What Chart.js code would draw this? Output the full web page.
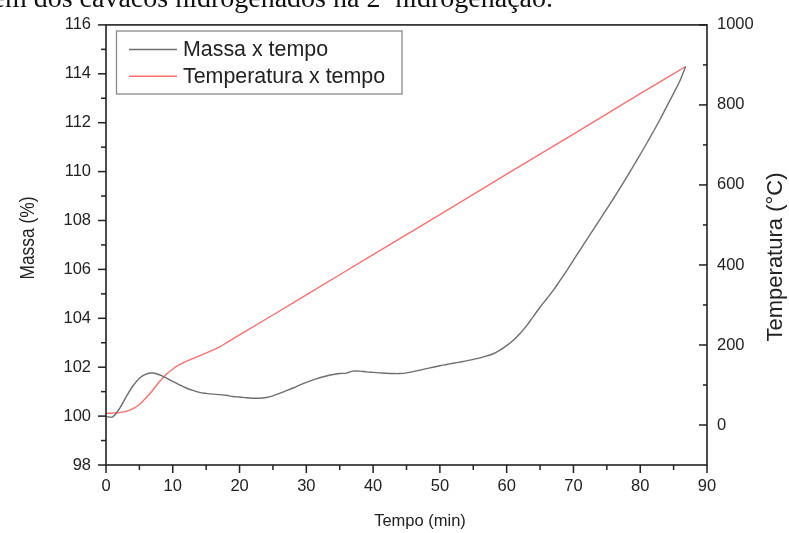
<!DOCTYPE html>
<html>
<head>
<meta charset="utf-8">
<script src="https://cdn.jsdelivr.net/npm/chart.js@4.4.1/dist/chart.umd.min.js"></script>
<style>
    html, body { margin: 0; padding: 0; background: #fff; overflow: hidden; }
    #wrap { position: relative; width: 789px; height: 533px; }
    #wrap canvas { position: absolute; left: 0; top: 0; }
    #caption {
        position: absolute; right: 236px; top: -16px;
        font: 28px 'Liberation Serif', serif; line-height: 28px;
        white-space: nowrap; color: #111;
    }
</style>
</head>
<body>
<div id="wrap">
    <canvas id="tgChart" width="789" height="533"></canvas>
    <div id="caption">em dos cavacos hidrogenados na 2ª hidrogenação.</div>
</div>
<script>
// Massa (%) x tempo (min)
const massTime = [0, 1, 2, 3, 4, 5, 6, 7, 8, 9, 10, 11, 12, 13, 14, 15, 16, 17, 18, 19,
    20, 21, 22, 23, 24, 25, 26, 27, 28, 29, 30, 31, 32, 33, 34, 35, 36, 37, 38, 39,
    40, 41, 42, 43, 44, 45, 46, 47, 48, 49, 50, 51, 52, 53, 54, 55, 56, 57, 58, 59,
    60, 61, 62, 63, 64, 65, 66, 67, 68, 69, 70, 71, 72, 73, 74, 75, 76, 77, 78, 79,
    80, 81, 82, 83, 84, 85, 86, 86.8];
const massPct = [99.98, 99.97, 100.3, 100.78, 101.22, 101.55, 101.72, 101.76, 101.69, 101.56,
    101.42, 101.28, 101.15, 101.05, 100.97, 100.93, 100.9, 100.88, 100.85, 100.8,
    100.78, 100.75, 100.73, 100.73, 100.76, 100.83, 100.93, 101.04, 101.15, 101.27,
    101.38, 101.48, 101.57, 101.64, 101.7, 101.74, 101.76, 101.84, 101.84, 101.81,
    101.79, 101.77, 101.75, 101.74, 101.74, 101.77, 101.82, 101.88, 101.94, 102.0,
    102.06, 102.11, 102.16, 102.21, 102.26, 102.32, 102.38, 102.46, 102.55, 102.7,
    102.88, 103.1, 103.38, 103.7, 104.08, 104.45, 104.8, 105.15, 105.55, 105.95,
    106.38, 106.8, 107.22, 107.64, 108.06, 108.48, 108.9, 109.33, 109.78, 110.24,
    110.7, 111.17, 111.65, 112.15, 112.68, 113.2, 113.75, 114.3];

// Temperatura (°C) x tempo (min)
const tempTime = [0, 1, 2, 3, 4, 5, 6, 7, 8, 9, 10, 11, 12, 13, 14, 15, 16, 17, 18, 19, 20,
    30, 40, 50, 60, 70, 80, 86.8];
const tempC = [29, 30, 31, 34, 40, 51, 68, 87, 108, 126, 140, 151, 159, 166, 173, 180, 187, 195, 205, 215, 225,
    325, 426, 526, 627, 727, 828, 896];

const seriesLabels = ['Massa x tempo', 'Temperatura x tempo'];
const timeTicks = [0, 10, 20, 30, 40, 50, 60, 70, 80, 90];
const massTicks = [98, 100, 102, 104, 106, 108, 110, 112, 114, 116];
const tempTicks = [0, 200, 400, 600, 800, 1000];
const xTitle = 'Tempo (min)';
const yTitle = 'Massa (%)';
const y2Title = 'Temperatura (°C)';

(function() {
    'use strict';

    const INK = '#222';
    const FONT = "'Liberation Sans', Arial, sans-serif";

    function toPoints(xs, ys) {
        return xs.map((x, i) => ({ x: x, y: ys[i] }));
    }

    function useTicks(values) {
        return function(scale) {
            scale.ticks = values.map(v => ({ value: v }));
        };
    }

    // Rahmen, Teilstriche, Achsentitel und Legende
    const framePlugin = {
        id: 'frame',
        afterDraw(chart) {
            const ctx = chart.ctx;
            const a = chart.chartArea;
            const sx = chart.scales.x, sy = chart.scales.y, sy2 = chart.scales.y2;
            ctx.save();
            ctx.strokeStyle = INK;
            ctx.lineWidth = 1.6;
            ctx.strokeRect(a.left, a.top, a.right - a.left, a.bottom - a.top);

            ctx.lineWidth = 1.5;
            function tick(x1, y1, x2, y2) {
                ctx.beginPath();
                ctx.moveTo(x1, y1);
                ctx.lineTo(x2, y2);
                ctx.stroke();
            }
            function eachTick(scale, fn) {
                scale.ticks.forEach((t, i) => {
                    fn(scale.getPixelForValue(t.value), true);
                    const next = scale.ticks[i + 1];
                    if (next) fn(scale.getPixelForValue((t.value + next.value) / 2), false);
                });
            }
            eachTick(sx, (p, major) => tick(p, a.bottom, p, a.bottom + (major ? 8 : 5)));
            eachTick(sy, (p, major) => tick(a.left, p, a.left - (major ? 8 : 5), p));
            eachTick(sy2, (p, major) => tick(a.right, p, a.right - (major ? 8 : 4), p));

            // Achsentitel
            ctx.fillStyle = INK;
            ctx.textAlign = 'center';
            ctx.textBaseline = 'middle';
            ctx.font = '16.5px ' + FONT;
            ctx.fillText(xTitle, 420, 521);

            function vTitle(text, x, y, size, squeeze) {
                ctx.save();
                ctx.font = size + 'px ' + FONT;
                ctx.translate(x, y);
                ctx.rotate(-Math.PI / 2);
                ctx.scale(squeeze, 1);
                ctx.fillText(text, 0, 0);
                ctx.restore();
            }
            vTitle(yTitle, 28, 238, 20, 0.87);
            vTitle(y2Title, 776, 257, 22, 1);
            ctx.restore();

            // Legende
            ctx.save();
            ctx.strokeStyle = '#8a8a8a';
            ctx.lineWidth = 1.3;
            ctx.strokeRect(116.5, 31, 285.5, 63);
            ctx.font = '21.4px ' + FONT;
            ctx.textAlign = 'left';
            ctx.textBaseline = 'middle';
            chart.data.datasets.forEach((ds, i) => {
                const yy = 49.5 + i * 26.7;
                ctx.strokeStyle = ds.borderColor;
                ctx.lineWidth = 1.4;
                tick(129, yy, 177, yy);
                ctx.fillStyle = INK;
                ctx.fillText(ds.label, 183, yy + 1);
            });
            ctx.restore();
        }
    };

    const tickFont = { family: FONT, size: 16.5 };
    const plainLabel = value => String(value);

    const config = {
        type: 'line',
        data: {
            datasets: [
                {
                    label: seriesLabels[0],
                    data: toPoints(massTime, massPct),
                    yAxisID: 'y',
                    borderColor: '#6e6e6e',
                    borderWidth: 1.4,
                    pointRadius: 0,
                    tension: 0.3,
                    fill: false
                },
                {
                    label: seriesLabels[1],
                    data: toPoints(tempTime, tempC),
                    yAxisID: 'y2',
                    borderColor: '#ff6f6f',
                    borderWidth: 1.4,
                    pointRadius: 0,
                    tension: 0.3,
                    fill: false
                }
            ]
        },
        options: {
            responsive: false,
            animation: false,
            layout: { padding: { top: 22, left: 0, right: 0, bottom: 0 } },
            plugins: {
                legend: { display: false },
                tooltip: { enabled: false }
            },
            scales: {
                x: {
                    type: 'linear',
                    position: 'bottom',
                    min: 0,
                    max: 90,
                    afterBuildTicks: useTicks(timeTicks),
                    afterFit: s => { s.height = 68; },
                    grid: { display: false, drawTicks: false },
                    border: { display: false },
                    ticks: { font: tickFont, color: INK, padding: 12, maxRotation: 0, callback: plainLabel }
                },
                y: {
                    type: 'linear',
                    position: 'left',
                    min: 98,
                    max: 116,
                    afterBuildTicks: useTicks(massTicks),
                    afterFit: s => { s.width = 106; },
                    grid: { display: false, drawTicks: false },
                    border: { display: false },
                    ticks: { font: tickFont, color: INK, padding: 15, callback: plainLabel }
                },
                y2: {
                    type: 'linear',
                    position: 'right',
                    min: -100,
                    max: 1000,
                    afterBuildTicks: useTicks(tempTicks),
                    afterFit: s => { s.width = 82; },
                    grid: { display: false, drawTicks: false },
                    border: { display: false },
                    ticks: { font: tickFont, color: INK, padding: 10, callback: plainLabel }
                }
            }
        },
        plugins: [framePlugin]
    };

    new Chart(document.getElementById('tgChart'), config);
})();
</script>
</body>
</html>
